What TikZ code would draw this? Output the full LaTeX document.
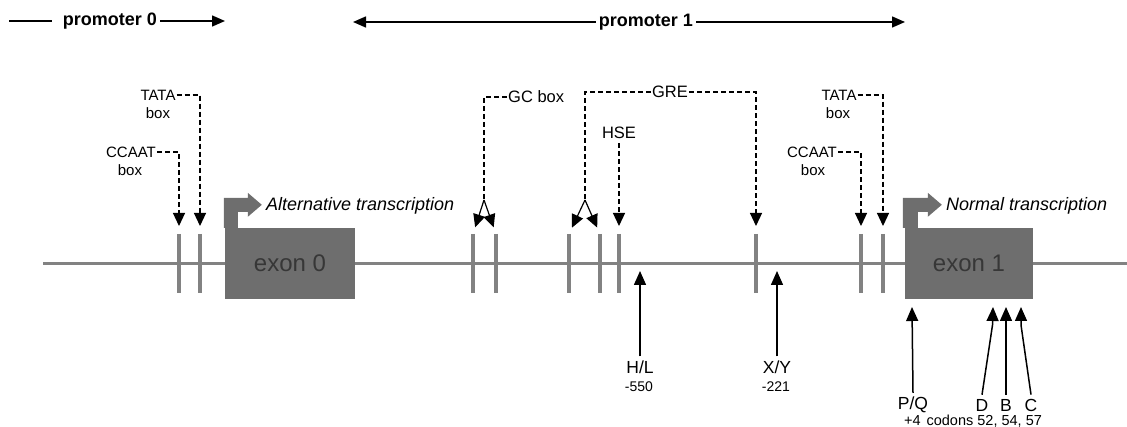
\documentclass[tikz,border=0pt]{standalone}
\usepackage{fontspec}
\setmainfont{Liberation Sans}
\usetikzlibrary{arrows.meta}
\definecolor{linegray}{RGB}{130,130,130}
\definecolor{exongray}{RGB}{110,110,110}
\definecolor{exontext}{RGB}{55,55,55}
\begin{document}
\begin{tikzpicture}[x=1pt,y=-1pt,
  lbl/.style={inner sep=1pt, font=\fontsize{15}{17}\selectfont},
  lblb/.style={inner sep=1pt, font=\fontsize{16.5}{19}\selectfont},
  prom/.style={inner xsep=3pt, inner ysep=1pt, font=\bfseries\fontsize{18}{20}\selectfont},
  trans/.style={inner sep=0pt, anchor=west, font=\itshape\fontsize{18}{20}\selectfont},
  pline/.style={line width=1.5pt},
  parr/.style={pline, -{Triangle[length=13pt,width=11pt]}},
  dsh/.style={line width=1.2pt, dash pattern=on 5pt off 3pt},
  dar/.style={dsh, -{Triangle[length=13pt,width=12pt]}, shorten >=8pt},
  splitar/.style={line width=1.2pt, solid, -{Triangle[length=13pt,width=12pt]}, shorten >=7pt},
  sarr/.style={line width=1.5pt, -{Triangle[length=14pt,width=12pt]}},
  gene/.style={draw=linegray, line width=3pt},
  tickl/.style={draw=linegray, line width=3.5pt},
  exon/.style={fill=exongray, draw=none, text=exontext, font=\fontsize{24}{26}\selectfont},
  bent/.style={fill=exongray, draw=none},
  snum/.style={inner sep=1pt, font=\fontsize{14}{16}\selectfont},
  mlab/.style={inner sep=2pt, font=\fontsize{17.5}{19}\selectfont}
]
\useasboundingbox (0,0) rectangle (1127,427);

% promoter arrows
\node[prom] (p0) at (110,21) {promoter 0};
\coordinate (p0s) at (9,21);
\coordinate (p0e) at (225,21);
\draw[pline] (p0s) -- ([xshift=-8pt]p0.west);
\draw[parr] (p0.east) -- (p0e);
\node[prom] (p1) at (646,22) {promoter 1};
\coordinate (p1l) at (353,22);
\coordinate (p1r) at (905,22);
\draw[parr] (p1.west) -- (p1l);
\draw[parr] (p1.east) -- (p1r);

% gene line
\coordinate (g0) at (43,263.5);
\coordinate (g1) at (1127,263.5);
\draw[gene] (g0) -- (g1);

% element ticks
\foreach \n/\x in {1/179,2/200,3/473,4/496,5/569,6/600,7/619,8/756,9/861,10/883}{
  \coordinate (tk\n) at (\x,234);
  \draw[tickl] (\x,234) -- (\x,293);
}

% exons
\node[exon, minimum width=130pt, minimum height=71pt] (ex0) at (290,263.5) {exon 0};
\node[exon, minimum width=128pt, minimum height=71pt] (ex1) at (969,263.5) {exon 1};

% bent transcription arrows
\fill[bent] ([xshift=-1pt]ex0.north west) -- ++(0,-30) -- ++(24,0) -- ++(0,-5) -- ++(14,12) -- ++(-14,12) -- ++(0,-5) -- ++(-10,0) -- ++(0,16) -- cycle;
\fill[bent] ([xshift=-2pt]ex1.north west) -- ++(0,-30) -- ++(25,0) -- ++(0,-5) -- ++(14,12) -- ++(-14,12) -- ++(0,-5) -- ++(-10,0) -- ++(0,16) -- cycle;
\node[trans] (alt) at (266,206) {Alternative transcription};
\node[trans] (norm) at (946,206) {Normal transcription};

% promoter 0 elements
\node[lbl] (tata0) at (158,95) {TATA};
\node[lbl] (tbox0) at (158,113) {box};
\node[lbl] (ccaat0) at (131,152) {CCAAT};
\node[lbl] (cbox0) at (130,170) {box};
\draw[dar] (tata0.east) -| (tk2);
\draw[dar] (ccaat0.east) -| (tk1);

% promoter 1 elements
\node[lbl] (tata1) at (839,95) {TATA};
\node[lbl] (tbox1) at (838,113) {box};
\node[lbl] (ccaat1) at (812,152) {CCAAT};
\node[lbl] (cbox1) at (813,170) {box};
\draw[dar] (tata1.east) -| (tk10);
\draw[dar] (ccaat1.east) -| (tk9);

% GC box
\node[lblb, anchor=west] (gc) at (507,97) {GC box};
\coordinate (gcs) at (484,200);
\draw[dsh] (gc.west) -| (gcs);
\draw[splitar] (gcs) -- (tk3);
\draw[splitar] (gcs) -- (tk4);

% GRE
\node[lblb] (gre) at (670,92) {GRE};
\coordinate (gres) at (585,200);
\draw[dsh] (gre.west) -| (gres);
\draw[splitar] (gres) -- (tk5);
\draw[splitar] (gres) -- (tk6);
\draw[dar] (gre.east) -| (tk8);

% HSE
\node[lblb] (hse) at (619,133) {HSE};
\draw[dar] ([yshift=-3pt]hse.south) -- (tk7);

% polymorphism arrows
\node[mlab] (hl) at (640,367) {H/L};
\node[snum] (hln) at (639,387) {-550};
\coordinate (hlt) at (640,271);
\draw[sarr] ([yshift=2pt]hl.north) -- (hlt);

\node[mlab] (xy) at (777,367) {X/Y};
\node[snum] (xyn) at (776,387) {-221};
\coordinate (xyt) at (777,271);
\draw[sarr] ([yshift=2pt]xy.north) -- (xyt);

\node[mlab] (pq) at (913,405) {P/Q};
\coordinate (pqt) at (912,307);
\draw[sarr] ([yshift=2pt]pq.north) -- (pqt);

\node[mlab] (d) at (982,405) {D};
\node[mlab] (b) at (1006,405) {B};
\node[mlab] (c) at (1031,405) {C};
\coordinate (dt) at (993,307);
\coordinate (bt) at (1006,307);
\coordinate (ct) at (1021,307);
\draw[sarr] ([yshift=2pt]d.north) -- (992.5,325) -- (dt);
\draw[sarr] ([yshift=2pt]b.north) -- (bt);
\draw[sarr] ([yshift=2pt]c.north) -- (1021,325) -- (ct);

\node[snum, font=\fontsize{14.5}{16}\selectfont] (cod) at (973,421) {+4\hspace{6pt}codons 52, 54, 57};
\end{tikzpicture}
\end{document}
